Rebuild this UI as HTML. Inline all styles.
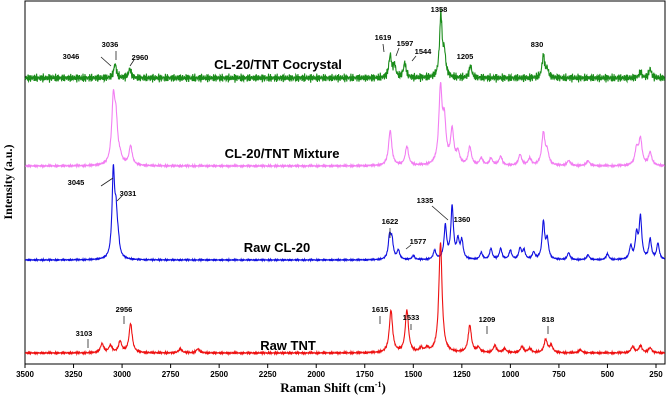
<!DOCTYPE html>
<html><head><meta charset="utf-8"><style>
body{margin:0;background:#fff;}
svg{display:block;font-family:"Liberation Sans",sans-serif;}
</style></head><body>
<svg id="c" width="666" height="400">
<rect x="25" y="1" width="640" height="363" fill="none" stroke="#000" stroke-width="1"/>
<g id="ticks"></g>
<g id="series"></g>
<g id="ann"></g>
<text x="333" y="392" text-anchor="middle" font-family="Liberation Serif,serif" font-weight="bold" font-size="13">Raman Shift (cm<tspan font-size="8" dy="-5">-1</tspan><tspan dy="5">)</tspan></text>
<text transform="translate(12,182) rotate(-90)" text-anchor="middle" font-family="Liberation Serif,serif" font-weight="bold" font-size="12">Intensity (a.u.)</text>
</svg>
<script>
const ticks=[3500,3250,3000,2750,2500,2250,2000,1750,1500,1250,1000,750,500,250];
const coPeaks=[3036,2960,1619,1597,1544,1358,1340,1205,830,810,330,280];
const coH=[14,9,22,12,15,62,22,12,22,8,6,9];
const mixPeaks=[3045,3031,3010,2956,1619,1533,1360,1340,1300,1270,1209,1150,1100,1050,950,900,830,810,700,600,350,330,280];
const mixH=[62,38,6,19,35,19,74,40,34,12,18,7,7,9,11,7,32,12,5,5,16,26,13];
const clPeaks=[3045,3031,3020,1622,1610,1577,1500,1390,1335,1300,1270,1250,1150,1100,1050,1000,950,930,880,830,810,700,600,500,380,350,330,280,240];
const clH=[85,38,12,22,18,9,4,9,33,52,18,18,7,11,11,9,11,9,7,37,19,7,5,6,13,24,42,20,16];
const tntPeaks=[3103,3060,3010,2956,2700,2610,1615,1533,1460,1430,1360,1209,1165,1080,1030,940,900,818,790,640,370,330,280];
const tntH=[9,7,11,29,4,4,42,42,4,4,110,27,5,7,4,6,4,13,7,3,6,7,5];
const baselines=[78,166,260,353];
const X=v=>25+(3500-v)*0.19415;
const NS="http://www.w3.org/2000/svg";
const tg=document.getElementById('ticks');
ticks.forEach(t=>{
 const l=document.createElementNS(NS,'line');
 
 
 l.setAttribute('x1',X(t));l.setAttribute('x2',X(t));l.setAttribute('y1',364);l.setAttribute('y2',368);l.setAttribute('stroke','#000');tg.appendChild(l);
 const tx=document.createElementNS(NS,'text');
 
 
 tx.setAttribute('x',X(t));tx.setAttribute('y',377);tx.setAttribute('text-anchor','middle');tx.setAttribute('font-size','8');tx.setAttribute('font-weight','bold');tx.textContent=t;tg.appendChild(tx);
});
function spec(peaks,h,base,w,noise){
 let d='';
 for(let v=3500;v>=204;v-=1.5){
  let y=0;
  for(let i=0;i<peaks.length;i++){const dx=(v-peaks[i])/w;y+=h[i]/(1+dx*dx);}
  let n=noise*(Math.sin(v*2.9)*0.6+Math.sin(v*5.3+1)*0.5+Math.sin(v*0.71)*0.4);
  d+=(d?'L':'M')+X(v).toFixed(1)+','+(base-y+n).toFixed(1);
 }
 return d;
}
const sg=document.getElementById('series');
const sets=[[coPeaks,coH,'#1a8c1a',8,3.2,'series-cocrystal'],[mixPeaks,mixH,'#f27ef2',10,0.8,'series-mixture'],[clPeaks,clH,'#1010e0',8,0.6,'series-raw-cl20'],[tntPeaks,tntH,'#ee1111',10,0.8,'series-raw-tnt']];
sets.forEach((s,i)=>{
 const p=document.createElementNS(NS,'path');
 
 
 p.setAttribute('d',spec(s[0],s[1],baselines[i],s[3],s[4]));p.setAttribute('fill','none');p.setAttribute('stroke',s[2]);p.setAttribute('stroke-width','1.1');sg.appendChild(p);
});
const ag=document.getElementById('ann');
const names=[['CL-20/TNT Cocrystal',278,69],['CL-20/TNT Mixture',282,158],['Raw CL-20',277,252],['Raw TNT',288,350]];
names.forEach(n=>{
 const t=document.createElementNS(NS,'text');
 
 
 t.setAttribute('x',n[1]);t.setAttribute('y',n[2]);t.setAttribute('text-anchor','middle');t.setAttribute('font-size','13');t.setAttribute('font-weight','bold');t.textContent=n[0];ag.appendChild(t);
});
const labels=[['3046',71,59],['3036',110,47],['2960',140,60],['1619',383,40],['1597',405,46],['1544',423,54],['1358',439,12],['1205',465,59],['830',537,47],['3045',76,185],['3031',128,196],['1622',390,224],['1577',418,244],['1335',425,203],['1360',462,222],['3103',84,336],['2956',124,312],['1615',380,312],['1533',411,320],['1209',487,322],['818',548,322]];
labels.forEach(l=>{
 const t=document.createElementNS(NS,'text');
 
 
 t.setAttribute('x',l[1]);t.setAttribute('y',l[2]);t.setAttribute('text-anchor','middle');t.setAttribute('font-size','7.5');t.setAttribute('font-weight','bold');t.textContent=l[0];ag.appendChild(t);
});
const arrows=[[101,57,111,66],[116,51,116,60],[134,60,130,66],[383,44,384,52],[399,48,396,56],[416,56,412,61],[101,186,113,178],[122,196,117,201],[390,228,390,238],[411,245,406,249],[432,206,448,220],[88,339,88,348],[124,316,124,324],[380,316,380,324],[411,324,411,330],[487,326,487,334],[548,326,548,334]];
arrows.forEach(a=>{
 const l=document.createElementNS(NS,'line');
 
 
 l.setAttribute('x1',a[0]);l.setAttribute('y1',a[1]);l.setAttribute('x2',a[2]);l.setAttribute('y2',a[3]);l.setAttribute('stroke','#222');l.setAttribute('stroke-width','0.8');ag.appendChild(l);
});
</script>
</body></html>
